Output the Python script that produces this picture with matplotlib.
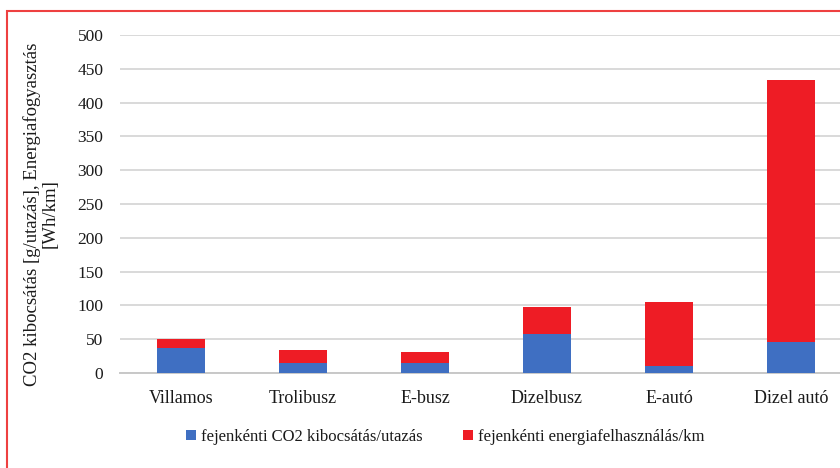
import numpy as np
import matplotlib
matplotlib.use('Agg')
import matplotlib.pyplot as plt
from matplotlib.patches import Rectangle

# data
categories = ['Villamos', 'Trolibusz', 'E-busz', 'Dizelbusz', 'E-autó', 'Dizel autó']
co2_per_trip = [37, 15, 15, 57, 10, 46]
energy_per_km = [13, 19, 16, 40, 95, 387]
yticks = [0, 50, 100, 150, 200, 250, 300, 350, 400, 450, 500]

blue = '#3F6FC2'
red = '#EE1C25'

plt.rcParams['font.family'] = ['Liberation Serif', 'DejaVu Serif']
plt.rcParams['font.size'] = 12
plt.rcParams['text.color'] = '#1a1a1a'

fig = plt.figure(figsize=(8.4, 4.68), dpi=100)
# axes extends beyond the right edge (reference is cropped)
ax = fig.add_axes([120/840, 1-373/468, 732/840, 338/468])

x = np.arange(len(categories))
ax.bar(x, co2_per_trip, width=0.39, color=blue, label='fejenkénti CO2 kibocsátás/utazás', zorder=3)
ax.bar(x, energy_per_km, width=0.39, bottom=co2_per_trip, color=red,
       label='fejenkénti energiafelhasználás/km', zorder=3)

ax.set_xlim(-0.5, len(categories)-0.5)
ax.set_ylim(0, 500)
ax.set_yticks(yticks)
ax.set_xticks(x)
ax.set_xticklabels(categories, fontsize=13)
ax.tick_params(axis='y', length=0, pad=12, labelsize=12.5, labelcolor='#1a1a1a')
ax.tick_params(axis='x', length=0, pad=12, labelcolor='#1a1a1a')
ax.yaxis.grid(True, color='#d9d9d9', linewidth=1.4, zorder=0)
for s in ['top', 'right', 'left']:
    ax.spines[s].set_visible(False)
ax.spines['bottom'].set_color('#c8c8c8')
ax.spines['bottom'].set_linewidth(1.4)

fig.text(41/840, 1-214/468, 'CO2 kibocsátás [g/utazás], Energiafogyasztás\n[Wh/km]',
         rotation=90, ha='center', va='center', multialignment='center',
         fontsize=13.5, linespacing=1.0)

fig.legend(loc='center', bbox_to_anchor=(0.53, 1-437/468), ncol=2, frameon=False,
           handlelength=0.6, handleheight=0.6, handletextpad=0.3, columnspacing=2.4,
           fontsize=12)

# red frame around the figure
fig.patches.append(Rectangle((7/840, -0.05), 1.0, 1-11/468+0.05, transform=fig.transFigure,
                             fill=False, edgecolor='#EE4040', linewidth=1.5, clip_on=False))

fig.savefig('out.png', dpi=100)
